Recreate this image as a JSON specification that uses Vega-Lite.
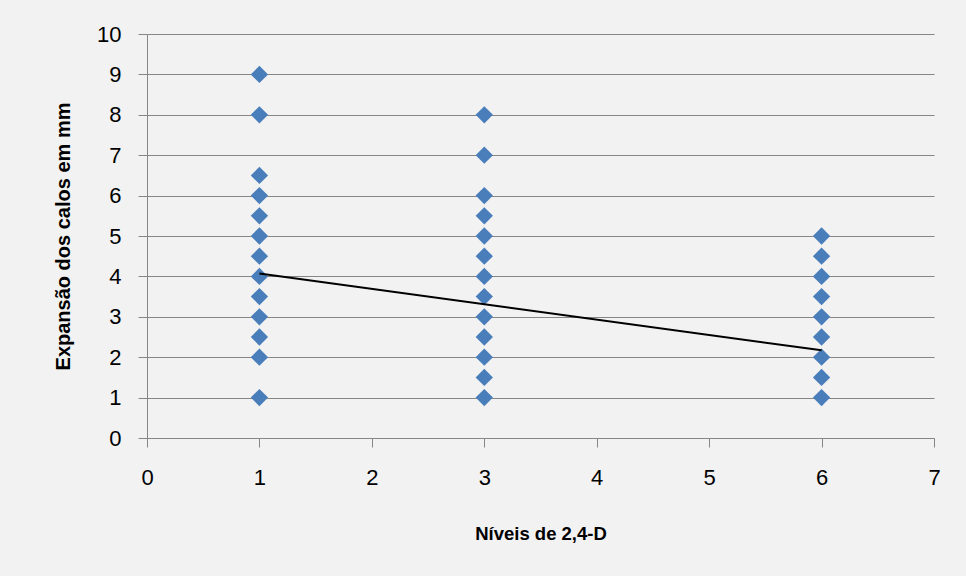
{
  "$schema": "https://vega.github.io/schema/vega-lite/v6.json",
  "autosize": "none",
  "width": 787,
  "height": 404,
  "padding": {"left": 147, "top": 34, "right": 32, "bottom": 138},
  "background": "#f2f2f2",
  "config": {
    "view": {"stroke": null},
    "font": "Liberation Sans",
    "axis": {
      "labelFont": "Liberation Sans",
      "labelFontSize": 22,
      "labelColor": "#000000",
      "titleFont": "Liberation Sans",
      "titleFontWeight": "bold",
      "titleColor": "#000000",
      "domainColor": "#868686",
      "tickColor": "#868686",
      "gridColor": "#868686",
      "gridOpacity": 1,
      "tickSize": 9
    }
  },
  "datasets": {
    "points": [
      {"nivel": 1, "expansao": 9},
      {"nivel": 1, "expansao": 8},
      {"nivel": 1, "expansao": 6.5},
      {"nivel": 1, "expansao": 6},
      {"nivel": 1, "expansao": 5.5},
      {"nivel": 1, "expansao": 5},
      {"nivel": 1, "expansao": 4.5},
      {"nivel": 1, "expansao": 4},
      {"nivel": 1, "expansao": 3.5},
      {"nivel": 1, "expansao": 3},
      {"nivel": 1, "expansao": 2.5},
      {"nivel": 1, "expansao": 2},
      {"nivel": 1, "expansao": 1},
      {"nivel": 3, "expansao": 8},
      {"nivel": 3, "expansao": 7},
      {"nivel": 3, "expansao": 6},
      {"nivel": 3, "expansao": 5.5},
      {"nivel": 3, "expansao": 5},
      {"nivel": 3, "expansao": 4.5},
      {"nivel": 3, "expansao": 4},
      {"nivel": 3, "expansao": 3.5},
      {"nivel": 3, "expansao": 3},
      {"nivel": 3, "expansao": 2.5},
      {"nivel": 3, "expansao": 2},
      {"nivel": 3, "expansao": 1.5},
      {"nivel": 3, "expansao": 1},
      {"nivel": 6, "expansao": 5},
      {"nivel": 6, "expansao": 4.5},
      {"nivel": 6, "expansao": 4},
      {"nivel": 6, "expansao": 3.5},
      {"nivel": 6, "expansao": 3},
      {"nivel": 6, "expansao": 2.5},
      {"nivel": 6, "expansao": 2},
      {"nivel": 6, "expansao": 1.5},
      {"nivel": 6, "expansao": 1}
    ],
    "trend": [
      {"nivel": 1, "expansao": 4.07},
      {"nivel": 6, "expansao": 2.17}
    ]
  },
  "layer": [
    {
      "data": {"name": "points"},
      "mark": {"type": "point", "shape": "diamond", "filled": true, "size": 300, "color": "#4a7ebb", "opacity": 1},
      "encoding": {
        "x": {
          "field": "nivel", "type": "quantitative",
          "scale": {"domain": [0, 7], "nice": false, "zero": true},
          "axis": {"title": "Níveis de 2,4-D", "titleFontSize": 18.5, "values": [0,1,2,3,4,5,6,7], "format": "d", "grid": false, "labelPadding": 20, "titlePadding": 36, "labelFlush": false}
        },
        "y": {
          "field": "expansao", "type": "quantitative",
          "scale": {"domain": [0, 10], "nice": false},
          "axis": {"title": "Expansão dos calos em mm", "titleFontSize": 20, "values": [0,1,2,3,4,5,6,7,8,9,10], "format": "d", "grid": true, "labelPadding": 17, "titlePadding": 23}
        }
      }
    },
    {
      "data": {"name": "trend"},
      "mark": {"type": "line", "color": "#000000", "strokeWidth": 2},
      "encoding": {
        "x": {"field": "nivel", "type": "quantitative"},
        "y": {"field": "expansao", "type": "quantitative"}
      }
    }
  ]
}
